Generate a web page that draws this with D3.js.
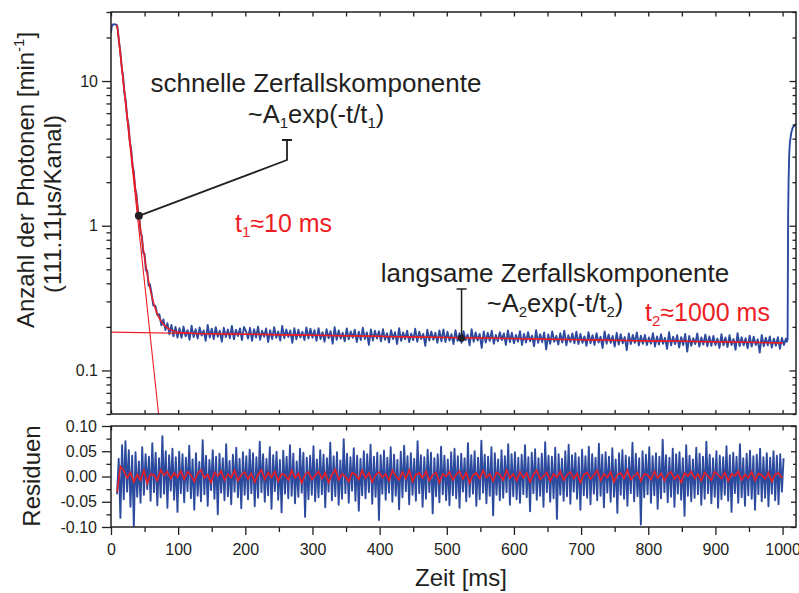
<!DOCTYPE html>
<html><head><meta charset="utf-8">
<script src="https://cdn.jsdelivr.net/npm/d3@7"></script>
<style>
body{margin:0;background:#fff}
svg{display:block}
text{font-family:"Liberation Sans",Arial,Helvetica,sans-serif;fill:#231f20}
</style></head><body>
<svg id="chart" width="799" height="593"></svg>
<script>
// ---------------- data ----------------
const xDomain = [0, 1020];
const topDomain = [0.05, 30];
const resDomain = [-0.1, 0.1];
const xMajorTicks = [0,100,200,300,400,500,600,700,800,900,1000];
const xMinorTicks = [50,150,250,350,450,550,650,750,850,950];
const yTopMajorTicks = [0.1, 1, 10];
const yTopMinorTicks = [0.05,0.06,0.07,0.08,0.09,0.2,0.3,0.4,0.5,0.6,0.7,0.8,0.9,2,3,4,5,6,7,8,9,20,30];
const resMajorTicks = [-0.1,-0.05,0,0.05,0.1];
const resMinorTicks = [-0.075,-0.025,0.025,0.075];

// measured photon counts: rise + fast decay (explicit times, ms)
const decayTimes  = [0,1,2,3,5,7,8,9,10,12,14,16,18,20,22,24,26,28,30,32,34,36,38,40,42,44,46,48,50,52,54,56,58];
const decayCounts = [21.5,23.6,24.4,24.6,24.7,24.5,24.5,24.2,22.9,18.6,15.8,12.4,10.7,8.3,7.3,5.6,5.0,3.8,3.42,2.60,2.36,1.79,1.65,1.26,1.17,0.89,0.85,0.65,0.64,0.49,0.49,0.385,0.395];
// measured photon counts: slow tail, one value every 3 ms from 60 ms
const tailStart = 60, tailStep = 3;
const tailCounts = [
.350,.281,.280,.241,.245,.205,.225,.190,.212,.178,.206,.172,.200,.169,
.196,.168,.201,.172,.190,.163,.204,.170,.193,.166,.198,.174,.189,.160,.206,.169,.194,.165,.199,.171,.188,.158,.197,.170,.192,.167,.203,.164,.191,.173,.195,.162,.200,
.187,.166,.197,.160,.193,.169,.201,.163,.188,.171,.195,.157,.190,.165,.199,.168,.186,.161,.203,.167,.192,.170,.189,.155,.196,.164,.191,.169,.185,.162,.198,.166,.194,
.168,.190,.160,.196,.165,.184,.158,.193,.167,.187,.153,.199,.163,.189,.166,.182,.159,.195,.164,.186,.168,.191,.157,.185,.162,.197,.165,.183,.150,.192,.161,.188,.166,
.187,.159,.193,.163,.181,.156,.190,.165,.184,.152,.196,.160,.183,.164,.188,.157,.180,.162,.194,.158,.185,.165,.179,.148,.191,.161,.186,.163,.182,.155,.189,.159,.192,
.157,.185,.161,.178,.152,.190,.160,.181,.155,.187,.162,.177,.149,.193,.158,.183,.161,.179,.143,.186,.156,.182,.160,.188,.153,.176,.159,.184,.162,.180,.150,.189,.157,
.182,.154,.176,.158,.187,.150,.179,.156,.184,.159,.174,.147,.190,.155,.178,.157,.183,.140,.177,.153,.186,.158,.173,.151,.181,.156,.188,.149,.175,.157,.180,.154,.185,
.152,.179,.155,.172,.148,.184,.154,.175,.150,.181,.156,.171,.143,.186,.153,.177,.155,.173,.146,.182,.151,.178,.154,.170,.138,.180,.152,.176,.155,.183,.149,.174,.153,
.176,.150,.169,.153,.181,.146,.172,.151,.178,.153,.168,.141,.184,.149,.171,.152,.175,.144,.170,.150,.179,.135,.173,.148,.167,.152,.180,.146,.169,.151,.177,.147,.172,
.148,.173,.150,.166,.143,.178,.149,.169,.145,.175,.150,.165,.139,.181,.147,.170,.149,.167,.142,.174,.146,.171,.150,.164,.133,.176,.147,.168,.149,.172,.144,.166,.148,
.170,.141,.168,.150,.166];
// next excitation pulse at the right edge
const riseTimes  = [1006.5,1007.5,1008.3,1009,1010,1011,1013,1015,1018,1020];
const riseCounts = [0.158,0.165,1.2,2.1,3.2,3.8,4.4,4.75,4.95,5.05];

// fit (sum of both components)
const fitTimes  = [9,12,15,18,21,24,27,30,33,36,39,42,45,48,51,54,57,60,64,68,72,76,80,85,90,100,120,150,200,300,400,500,600,700,800,900,1000];
const fitCounts = [24.3,18.9,14.0,10.4,7.77,5.80,4.35,3.27,2.47,1.87,1.43,1.11,0.871,0.693,0.561,0.463,0.390,0.337,0.286,0.252,0.229,0.214,0.204,0.195,0.190,0.184,0.181,0.179,0.178,0.175,0.172,0.169,0.166,0.163,0.160,0.158,0.155];
// fast component (straight on log axis)
const fastTimes  = [9, 80];
const fastCounts = [24.3, 0.020];
// slow component
const slowTimes  = [0, 1000];
const slowCounts = [0.184, 0.155];

// residuals, one value every 2.5 ms from 9 ms
const resStart = 9, resStep = 2.5;
const residuals = [
-.035,.035,-.082,.062,-.045,.070,-.030,.052,-.060,.041,-.098,.048,-.040,.030,-.052,.058,-.036,.044,-.025,.039,-.048,.066,-.031,.047,-.057,.036,-.041,.080,-.034,.050,-.062,.042,-.028,.055,-.046,.038,-.070,.049,-.033,.044,
-.051,.037,-.029,.061,-.043,.034,-.066,.046,-.038,.029,-.049,.072,-.035,.041,-.058,.033,-.027,.052,-.044,.039,-.075,.045,-.032,.036,-.047,.064,-.039,.031,-.055,.043,-.030,.057,-.041,.035,-.063,.048,-.036,.040,-.045,.053,
-.033,.046,-.059,.038,-.042,.069,-.031,.044,-.050,.035,-.037,.058,-.064,.042,-.029,.049,-.046,.033,-.071,.051,-.034,.039,-.043,.062,-.038,.045,-.053,.030,-.040,.055,-.032,.047,-.080,.037,-.045,.041,-.036,.060,-.049,.034,
-.041,.052,-.035,.043,-.061,.036,-.030,.067,-.047,.040,-.039,.048,-.056,.032,-.044,.074,-.033,.045,-.052,.038,-.028,.056,-.048,.041,-.068,.035,-.037,.050,-.043,.044,-.031,.063,-.054,.039,-.040,.047,-.086,.042,-.034,.051,
-.046,.037,-.032,.058,-.050,.043,-.038,.033,-.065,.049,-.041,.061,-.029,.040,-.055,.046,-.036,.035,-.048,.070,-.033,.042,-.060,.038,-.044,.053,-.031,.047,-.073,.036,-.039,.044,-.051,.059,-.035,.041,-.047,.034,-.057,.048,
-.037,.055,-.043,.040,-.062,.045,-.030,.036,-.049,.066,-.040,.042,-.034,.050,-.058,.037,-.045,.071,-.032,.043,-.053,.039,-.038,.058,-.077,.046,-.036,.034,-.047,.052,-.042,.040,-.031,.064,-.056,.044,-.039,.048,-.045,.037,
-.052,.043,-.035,.062,-.041,.038,-.069,.047,-.033,.054,-.046,.036,-.038,.045,-.060,.068,-.031,.041,-.050,.039,-.043,.057,-.084,.044,-.036,.035,-.048,.050,-.039,.063,-.054,.042,-.030,.046,-.044,.038,-.066,.053,-.037,.040,
-.042,.059,-.055,.044,-.034,.037,-.047,.065,-.038,.043,-.061,.048,-.032,.039,-.050,.056,-.040,.034,-.072,.046,-.036,.052,-.044,.041,-.058,.038,-.033,.067,-.049,.045,-.039,.036,-.095,.050,-.041,.043,-.035,.058,-.052,.040,
-.037,.046,-.064,.039,-.043,.073,-.031,.042,-.051,.037,-.040,.055,-.060,.044,-.034,.048,-.046,.036,-.078,.062,-.038,.041,-.049,.034,-.042,.057,-.035,.045,-.056,.039,-.044,.069,-.033,.043,-.053,.036,-.040,.050,-.062,.041,
-.045,.038,-.036,.060,-.048,.042,-.070,.047,-.033,.039,-.052,.064,-.041,.036,-.058,.045,-.037,.051,-.044,.040,-.066,.043,-.035,.055,-.049,.038,-.042,.046,-.059,.037,-.034,.050,-.047,.041,-.055,.044,-.030,.036];
// smoothed residuals (red), one value every 5 ms from 9 ms
const smoothStart = 9, smoothStep = 5;
const smoothResiduals = [
-.031,.020,.012,-.003,.008,-.011,.004,-.007,.012,-.014,.005,.003,-.008,.013,.002,.010,-.004,.007,-.001,.011,
-.006,.009,.003,-.010,.006,.013,-.003,.004,-.012,.008,.001,.011,-.007,.005,-.002,.012,-.008,.003,.009,-.005,
.006,-.011,.004,.013,-.006,.008,-.002,.010,-.009,.005,.003,-.007,.012,-.003,.006,-.013,.004,.009,-.006,.002,
.010,-.004,.008,-.012,.003,.014,-.007,.005,.000,-.010,.008,.004,-.006,.012,-.003,.007,-.011,.003,.009,-.002,
.005,-.008,.012,.001,-.007,.009,-.004,.013,-.010,.004,.007,-.003,.010,-.008,.003,.008,-.012,.005,.000,.009,
-.007,.004,.010,-.005,.008,-.013,.003,.007,-.004,.012,-.002,.005,-.009,.008,.004,-.007,.013,-.003,.005,-.008,
.009,-.003,.007,-.011,.004,.012,-.006,.001,.008,-.009,.005,-.002,.010,-.007,.003,.009,-.004,.006,-.012,.004,
.008,-.005,.003,.012,-.008,.005,-.002,.009,-.011,.004,.007,-.004,.013,-.006,.001,.008,-.009,.005,.003,-.006,
.010,-.003,.006,-.008,.004,.009,-.005,.003,-.012,.007,.001,.010,-.004,.005,-.008,.008,.000,-.007,.009,.003,
-.004,.008,-.009,.005,.001,.010,-.007,.004,-.003,.009,-.008,.006,.003,-.005,.008,-.010,.004,.007,-.003];

// annotation anchor points (data coordinates)
const fastMarker = [41.5, 1.17];
const slowMarker = [522, 0.167];

// ---------------- drawing ----------------
const ink = "#231f20", blue = "#2c4b9e", red = "#ee1d23";
const L = 111, R = 796, T1 = 12, B1 = 414, T2 = 426, B2 = 527;
const svg = d3.select("#chart");

const x = d3.scaleLinear().domain(xDomain).range([L, R]);
const yTop = d3.scaleLog().domain(topDomain).range([B1, T1]);
const yRes = d3.scaleLinear().domain(resDomain).range([B2, T2]);

const defs = svg.append("defs");
defs.append("clipPath").attr("id","clipTop").append("rect")
  .attr("x",L).attr("y",T1).attr("width",R-L).attr("height",B1-T1);
defs.append("clipPath").attr("id","clipRes").append("rect")
  .attr("x",L).attr("y",T2).attr("width",R-L).attr("height",B2-T2);

const topPts = decayTimes.map((t,i)=>[t,decayCounts[i]])
  .concat(tailCounts.map((v,i)=>[tailStart+i*tailStep, v]))
  .concat(riseTimes.map((t,i)=>[t,riseCounts[i]]));
const lineTop = d3.line().x(d=>x(d[0])).y(d=>yTop(d[1]));
const lineRes = d3.line().x(d=>x(d[0])).y(d=>yRes(d[1]));

const gTop = svg.append("g").attr("clip-path","url(#clipTop)");
gTop.append("path").datum(topPts).attr("d",lineTop)
  .attr("fill","none").attr("stroke",blue).attr("stroke-width",1.9).attr("stroke-linejoin","round");
gTop.append("path").datum(slowTimes.map((t,i)=>[t,slowCounts[i]])).attr("d",lineTop)
  .attr("fill","none").attr("stroke",red).attr("stroke-width",1.1);
gTop.append("path").datum(fastTimes.map((t,i)=>[t,fastCounts[i]])).attr("d",lineTop)
  .attr("fill","none").attr("stroke",red).attr("stroke-width",1.1);
gTop.append("path").datum(fitTimes.map((t,i)=>[t,fitCounts[i]]))
  .attr("d",lineTop.curve(d3.curveMonotoneX))
  .attr("fill","none").attr("stroke",red).attr("stroke-width",1.5);

const gRes = svg.append("g").attr("clip-path","url(#clipRes)");
gRes.append("path").datum(residuals.map((v,i)=>[resStart+i*resStep, v])).attr("d",lineRes)
  .attr("fill","none").attr("stroke",blue).attr("stroke-width",1.9).attr("stroke-linejoin","round");
gRes.append("path").datum(smoothResiduals.map((v,i)=>[smoothStart+i*smoothStep, v])).attr("d",lineRes)
  .attr("fill","none").attr("stroke",red).attr("stroke-width",1.6);

// axes
function styleAxis(g){
  g.select(".domain").remove();
  g.selectAll("line").attr("stroke",ink).attr("stroke-width",1.3);
  g.selectAll("text").attr("font-size",16).attr("fill",ink)
   .style("font-family",'"Liberation Sans",Arial,sans-serif');
  return g;
}
const fmtRes = d => d3.format(".2f")(d).replace("\u2212","-");
// top panel
styleAxis(svg.append("g").attr("transform",`translate(${L},0)`)
  .call(d3.axisLeft(yTop).tickValues(yTopMajorTicks).tickSize(9).tickPadding(4).tickFormat(d3.format("~g"))));
styleAxis(svg.append("g").attr("transform",`translate(${L},0)`)
  .call(d3.axisLeft(yTop).tickValues(yTopMinorTicks).tickSize(4.5).tickFormat("")));
styleAxis(svg.append("g").attr("transform",`translate(${R},0)`)
  .call(d3.axisLeft(yTop).tickValues(yTopMajorTicks).tickSize(0).tickFormat("")))
  .selectAll("line").attr("x2",-6.5);
styleAxis(svg.append("g").attr("transform",`translate(${R},0)`)
  .call(d3.axisLeft(yTop).tickValues(yTopMinorTicks).tickSize(0).tickFormat("")))
  .selectAll("line").attr("x2",-3.5);
styleAxis(svg.append("g").attr("transform",`translate(0,${T1})`)
  .call(d3.axisBottom(x).tickValues(xMajorTicks.concat(xMinorTicks)).tickSize(4.5).tickFormat("")));
styleAxis(svg.append("g").attr("transform",`translate(0,${B1})`)
  .call(d3.axisTop(x).tickValues(xMajorTicks.concat(xMinorTicks)).tickSize(4).tickFormat("")));
// residual panel
styleAxis(svg.append("g").attr("transform",`translate(${L},0)`)
  .call(d3.axisLeft(yRes).tickValues(resMajorTicks).tickSize(9).tickPadding(5).tickFormat(fmtRes)));
styleAxis(svg.append("g").attr("transform",`translate(${L},0)`)
  .call(d3.axisLeft(yRes).tickValues(resMinorTicks).tickSize(4.5).tickFormat("")));
styleAxis(svg.append("g").attr("transform",`translate(${R},0)`)
  .call(d3.axisLeft(yRes).tickValues(resMajorTicks).tickSize(0).tickFormat("")))
  .selectAll("line").attr("x2",-5);
styleAxis(svg.append("g").attr("transform",`translate(${R},0)`)
  .call(d3.axisLeft(yRes).tickValues(resMinorTicks).tickSize(0).tickFormat("")))
  .selectAll("line").attr("x2",-3);
styleAxis(svg.append("g").attr("transform",`translate(0,${T2})`)
  .call(d3.axisBottom(x).tickValues(xMajorTicks.concat(xMinorTicks)).tickSize(4.5).tickFormat("")));
styleAxis(svg.append("g").attr("transform",`translate(0,${B2})`)
  .call(d3.axisBottom(x).tickValues(xMajorTicks).tickSize(8).tickPadding(9).tickFormat(d3.format("d"))));
styleAxis(svg.append("g").attr("transform",`translate(0,${B2})`)
  .call(d3.axisBottom(x).tickValues(xMinorTicks).tickSize(5).tickFormat("")));

// frames
[[T1,B1],[T2,B2]].forEach(([t,b])=>{
  svg.append("rect").attr("x",L).attr("y",t).attr("width",R-L).attr("height",b-t)
    .attr("fill","none").attr("stroke",ink).attr("stroke-width",1.5);
});

// axis titles
const yl = svg.append("text").attr("transform","translate(34,180) rotate(-90)")
  .attr("text-anchor","middle").attr("font-size",24);
yl.append("tspan").text("Anzahl der Photonen [min");
yl.append("tspan").attr("font-size",15).attr("dy",-10).text("-1");
yl.append("tspan").attr("dy",10).text("]");
svg.append("text").attr("transform","translate(61,204) rotate(-90)")
  .attr("text-anchor","middle").attr("font-size",24).text("(111.11µs/Kanal)");
svg.append("text").attr("transform","translate(40,476) rotate(-90)")
  .attr("text-anchor","middle").attr("font-size",24).text("Residuen");
svg.append("text").attr("x",461).attr("y",586)
  .attr("text-anchor","middle").attr("font-size",24).text("Zeit [ms]");

// annotations
function formula(xp, yp, idx){
  const t = svg.append("text").attr("x",xp).attr("y",yp).attr("text-anchor","middle").attr("font-size",25.5);
  t.append("tspan").text("~A");
  t.append("tspan").attr("font-size",15).attr("dy",5).text(idx);
  t.append("tspan").attr("dy",-5).text("exp(-t/t");
  t.append("tspan").attr("font-size",15).attr("dy",5).text(idx);
  t.append("tspan").attr("dy",-5).text(")");
}
function tau(xp, yp, idx, val){
  const t = svg.append("text").attr("x",xp).attr("y",yp).attr("font-size",25)
    .style("fill",red);
  t.append("tspan").text("t");
  t.append("tspan").attr("font-size",15).attr("dy",5).text(idx);
  t.append("tspan").attr("dy",-5).text("\u2248" + val + " ms");
}
svg.append("text").attr("x",316).attr("y",92).attr("text-anchor","middle")
  .attr("font-size",26).text("schnelle Zerfallskomponente");
formula(316,123,"1");
tau(235,232,"1","10");
svg.append("text").attr("x",555).attr("y",282).attr("text-anchor","middle")
  .attr("font-size",26).text("langsame Zerfallskomponente");
formula(555,312,"2");
tau(645,321,"2","1000");

// leader lines
const p1 = [x(fastMarker[0]), yTop(fastMarker[1])];
svg.append("path").attr("d",`M${p1[0]},${p1[1]}L287,160L287,140M282,140L292,140`)
  .attr("fill","none").attr("stroke",ink).attr("stroke-width",1.8);
svg.append("circle").attr("cx",p1[0]).attr("cy",p1[1]).attr("r",4).attr("fill",ink);
const p2 = [x(slowMarker[0]), yTop(slowMarker[1])];
svg.append("path").attr("d",`M${p2[0]},${p2[1]}L${p2[0]},289M${p2[0]-5},289L${p2[0]+5},289`)
  .attr("fill","none").attr("stroke",ink).attr("stroke-width",1.5);
svg.append("circle").attr("cx",p2[0]).attr("cy",p2[1]).attr("r",3.5).attr("fill",ink);
</script>
</body></html>
